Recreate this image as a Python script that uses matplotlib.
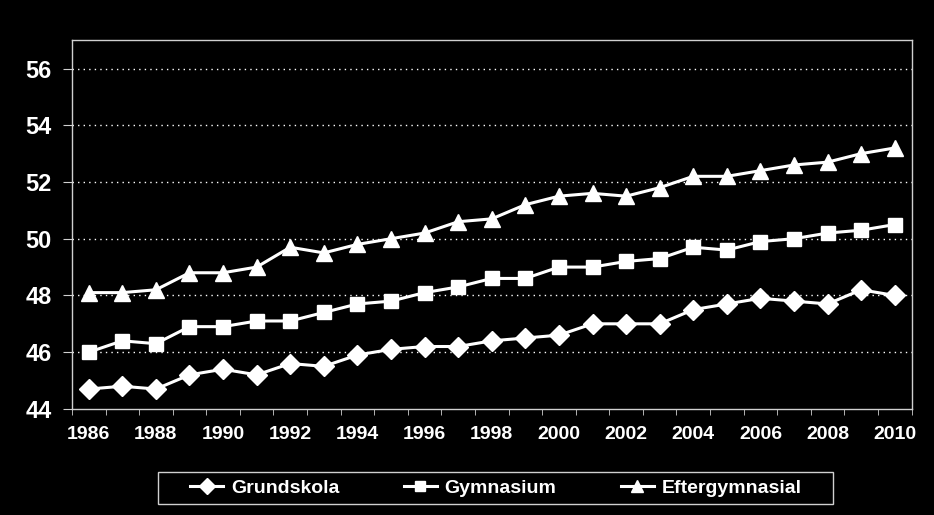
import numpy as np
import matplotlib.pyplot as plt
from matplotlib.patches import Rectangle

years = np.arange(1986, 2011)
grundskola = [44.7, 44.8, 44.7, 45.2, 45.4, 45.2, 45.6, 45.5, 45.9, 46.1, 46.2, 46.2, 46.4,
              46.5, 46.6, 47.0, 47.0, 47.0, 47.5, 47.7, 47.9, 47.8, 47.7, 48.2, 48.0]
gymnasium = [46.0, 46.4, 46.3, 46.9, 46.9, 47.1, 47.1, 47.4, 47.7, 47.8, 48.1, 48.3, 48.6,
             48.6, 49.0, 49.0, 49.2, 49.3, 49.7, 49.6, 49.9, 50.0, 50.2, 50.3, 50.5]
eftergymnasial = [48.1, 48.1, 48.2, 48.8, 48.8, 49.0, 49.7, 49.5, 49.8, 50.0, 50.2, 50.6, 50.7,
                  51.2, 51.5, 51.6, 51.5, 51.8, 52.2, 52.2, 52.4, 52.6, 52.7, 53.0, 53.2]

plt.rcParams['font.family'] = ['Liberation Sans', 'DejaVu Sans']
plt.rcParams['font.weight'] = 'bold'

fig = plt.figure(figsize=(9.34, 5.15), dpi=100, facecolor='black')
ax = fig.add_axes([0.077, 0.206, 0.899, 0.716], facecolor='black')

ax.plot(years, grundskola, color='white', lw=2.2, marker='D', ms=10.5, label='Grundskola')
ax.plot(years, gymnasium, color='white', lw=2.2, marker='s', ms=10, label='Gymnasium')
ax.plot(years, eftergymnasial, color='white', lw=2.2, marker='^', ms=12, label='Eftergymnasial')

ax.set_xlim(1985.5, 2010.5)
ax.set_ylim(44, 57)
ax.set_yticks(np.arange(44, 57, 2))
ax.set_xticks(years[::2])
ax.set_xticks(np.arange(1985.5, 2011, 1), minor=True)
ax.tick_params(axis='x', which='major', length=0, colors='white', labelsize=14, pad=12)
ax.tick_params(axis='x', which='minor', length=4, color='#d0d0d0', direction='out')
ax.tick_params(axis='y', length=6.5, color='#d0d0d0', colors='white', labelsize=17, pad=8)
for lab in ax.get_xticklabels() + ax.get_yticklabels():
    lab.set_fontweight('bold')

for y in range(46, 57, 2):
    ax.axhline(y, color='white', lw=1, ls=(0, (1, 3)), zorder=0)

for s in ax.spines.values():
    s.set_color('#d0d0d0')
    s.set_linewidth(1)

# legend without its own frame, box drawn around it
leg = fig.legend(loc='center', bbox_to_anchor=(0.531, 0.0524), ncol=3, frameon=False,
                 prop={'size': 14, 'weight': 'bold'}, handlelength=1.7,
                 handletextpad=0.4, columnspacing=3.3, markerscale=0.75)
for t in leg.get_texts():
    t.set_color('white')
fig.patches.append(Rectangle((158 / 934, 1 - 504 / 515), 675 / 934, 32 / 515,
                             transform=fig.transFigure, facecolor='none',
                             edgecolor='#d0d0d0', lw=1))

fig.savefig('out.png', dpi=100, facecolor='black')
